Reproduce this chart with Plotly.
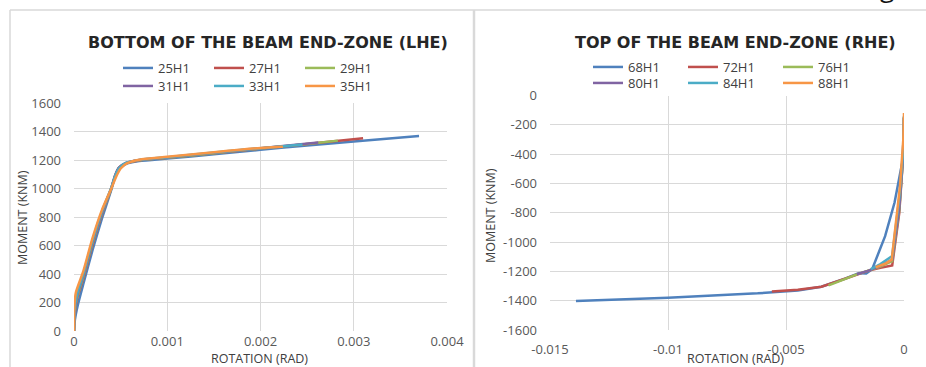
import plotly.graph_objects as go

W, H = 926, 367

# ---------------- data: left chart (bottom of beam end-zone, LHE) ----------------
left_names = ["25H1", "27H1", "29H1", "31H1", "33H1", "35H1"]
rot_25H1 = [0, 0.00001, 0.00004, 0.0001, 0.0002, 0.0003, 0.0004, 0.00044, 0.00048, 0.00055, 0.0007, 0.001, 0.0015, 0.002, 0.0025, 0.003, 0.0037]
mom_25H1 = [0, 80, 180, 330, 570, 790, 990, 1080, 1140, 1170, 1192, 1210, 1240, 1272, 1302, 1330, 1368]
rot_27H1 = [0, 0.000005, 0.00003, 0.0001, 0.0002, 0.0003, 0.0004, 0.00044, 0.00048, 0.00055, 0.0007, 0.001, 0.0015, 0.002, 0.0025, 0.0031]
mom_27H1 = [0, 100, 220, 370, 610, 820, 1000, 1090, 1145, 1175, 1197, 1215, 1247, 1280, 1313, 1352]
rot_29H1 = [0, 0.000005, 0.00003, 0.0001, 0.0002, 0.0003, 0.0004, 0.00044, 0.00048, 0.00055, 0.0007, 0.001, 0.0015, 0.002, 0.0025, 0.00283]
mom_29H1 = [0, 110, 230, 380, 620, 825, 1000, 1085, 1142, 1175, 1198, 1216, 1248, 1280, 1312, 1336]
rot_31H1 = [0, 0.000005, 0.00003, 0.0001, 0.0002, 0.0003, 0.0004, 0.00044, 0.00048, 0.00055, 0.0007, 0.001, 0.0015, 0.002, 0.00262]
mom_31H1 = [0, 120, 240, 390, 630, 830, 1005, 1090, 1145, 1178, 1200, 1218, 1250, 1282, 1322]
rot_33H1 = [0, 0.000004, 0.00003, 0.0001, 0.0002, 0.0003, 0.0004, 0.00044, 0.00048, 0.00055, 0.0007, 0.001, 0.0015, 0.002, 0.00245]
mom_33H1 = [0, 140, 250, 400, 640, 840, 1005, 1085, 1140, 1178, 1201, 1220, 1252, 1283, 1308]
rot_35H1 = [0, 0.000003, 0.00002, 0.0001, 0.0002, 0.0003, 0.0004, 0.00045, 0.0005, 0.00057, 0.0007, 0.001, 0.0015, 0.002, 0.00224]
mom_35H1 = [0, 160, 270, 420, 655, 850, 1000, 1080, 1140, 1178, 1202, 1222, 1255, 1285, 1293]

# ---------------- data: right chart (top of beam end-zone, RHE) ----------------
right_names = ["68H1", "72H1", "76H1", "80H1", "84H1", "88H1"]
rot_68H1 = [0, -0.00002, -0.00008, -0.0004, -0.0008, -0.00125, -0.00135, -0.0016, -0.0019, -0.0025, -0.0035, -0.0045, -0.0062, -0.01, -0.0139]
mom_68H1 = [-150, -300, -460, -730, -960, -1150, -1185, -1215, -1212, -1250, -1305, -1330, -1350, -1380, -1402]
rot_72H1 = [0, -0.00003, -0.0002, -0.0005, -0.001, -0.0015, -0.0025, -0.0035, -0.0045, -0.0056]
mom_72H1 = [-150, -400, -800, -1160, -1175, -1195, -1250, -1305, -1325, -1338]
rot_76H1 = [0, -0.00003, -0.0002, -0.0005, -0.001, -0.002, -0.003, -0.0032]
mom_76H1 = [-150, -400, -780, -1130, -1168, -1220, -1283, -1295]
rot_80H1 = [0, -0.00003, -0.0002, -0.0005, -0.001, -0.0015, -0.002]
mom_80H1 = [-150, -400, -770, -1120, -1163, -1195, -1220]
rot_84H1 = [0, -0.00003, -0.0002, -0.0005, -0.001, -0.0014]
mom_84H1 = [-140, -380, -700, -1095, -1150, -1185]
rot_88H1 = [0, -0.00003, -0.00017, -0.00052, -0.0008, -0.0012]
mom_88H1 = [-120, -300, -620, -1120, -1148, -1172]

# ---------------- tick labels ----------------
left_x_ticks = [0, 0.001, 0.002, 0.003, 0.004]
left_x_labels = ["0", "0.001", "0.002", "0.003", "0.004"]
left_y_ticks = [0, 200, 400, 600, 800, 1000, 1200, 1400, 1600]
left_y_labels = ["0", "200", "400", "600", "800", "1000", "1200", "1400", "1600"]
right_x_ticks = [-0.015, -0.01, -0.005, 0]
right_x_labels = ["-0.015", "-0.01", "-0.005", "0"]
right_y_ticks = [0, -200, -400, -600, -800, -1000, -1200, -1400, -1600]
right_y_labels = ["0", "-200", "-400", "-600", "-800", "-1000", "-1200", "-1400", "-1600"]

colors = ["#4F81BD", "#C0504D", "#9BBB59", "#8064A2", "#4BACC6", "#F79646"]

left_rot = [rot_25H1, rot_27H1, rot_29H1, rot_31H1, rot_33H1, rot_35H1]
left_mom = [mom_25H1, mom_27H1, mom_29H1, mom_31H1, mom_33H1, mom_35H1]
right_rot = [rot_68H1, rot_72H1, rot_76H1, rot_80H1, rot_84H1, rot_88H1]
right_mom = [mom_68H1, mom_72H1, mom_76H1, mom_80H1, mom_84H1, mom_88H1]

fig = go.Figure()
for i in range(6):
    fig.add_trace(go.Scatter(x=left_rot[i], y=left_mom[i], mode="lines", name=left_names[i],
                             line=dict(color=colors[i], width=2.5, shape="spline", smoothing=0.6),
                             xaxis="x", yaxis="y", legend="legend" if i < 3 else "legend2"))
for i in range(6):
    fig.add_trace(go.Scatter(x=right_rot[i], y=right_mom[i], mode="lines", name=right_names[i],
                             line=dict(color=colors[i], width=2.5),
                             xaxis="x2", yaxis="y2", legend="legend3" if i < 3 else "legend4"))

def px_x(p):
    return p / W

def px_y(p):
    return 1 - p / H

tickfont = dict(family="Open Sans", size=13, color="#595959")
titlefont = dict(family="Open Sans", size=12.5, color="#404040")
grid = "#D9D9D9"

axis_common = dict(showgrid=True, gridcolor=grid, gridwidth=1, zeroline=False, showline=False,
                   ticks="", tickmode="array", tickfont=tickfont, fixedrange=True, automargin=False)

legfont = dict(family="Open Sans", size=13, color="#404040")

def leg(x, y, ew):
    return dict(orientation="h", x=px_x(x), y=px_y(y), xanchor="left", yanchor="middle",
                font=legfont, entrywidth=ew, entrywidthmode="pixels", bgcolor="rgba(0,0,0,0)",
                itemwidth=30, tracegroupgap=0)

fig.update_layout(
    width=W, height=H,
    margin=dict(l=0, r=0, t=0, b=0, autoexpand=False),
    paper_bgcolor="white", plot_bgcolor="white",
    showlegend=True,
    xaxis=dict(axis_common, domain=[px_x(74), px_x(447)], range=[0, 0.004],
               tickvals=left_x_ticks, ticktext=left_x_labels, anchor="y", ticklabelstandoff=1),
    yaxis=dict(axis_common, domain=[px_y(331), px_y(103)], range=[0, 1600],
               tickvals=left_y_ticks, ticktext=left_y_labels, anchor="x", ticklabelstandoff=12),
    xaxis2=dict(axis_common, domain=[px_x(550), px_x(904)], range=[-0.015, 0],
                tickvals=right_x_ticks, ticktext=right_x_labels, anchor="y2", ticklabelstandoff=10),
    yaxis2=dict(axis_common, domain=[px_y(330), px_y(95.5)], range=[-1600, 0],
                tickvals=right_y_ticks, ticktext=right_y_labels, anchor="x2", ticklabelstandoff=12),
    legend=leg(118, 68, 46),
    legend2=leg(118, 86, 46),
    legend3=leg(588, 67, 50),
    legend4=leg(588, 83, 50),
)

annotations = [
    dict(text="<b>BOTTOM OF THE BEAM END-ZONE (LHE)</b>", x=px_x(268), y=px_y(43),
         font=dict(family="DejaVu Sans", size=16, color="#262626")),
    dict(text="<b>TOP OF THE BEAM END-ZONE (RHE)</b>", x=px_x(735), y=px_y(42),
         font=dict(family="DejaVu Sans", size=16, color="#262626")),
    dict(text="MOMENT (KNM)", x=px_x(22), y=px_y(218), textangle=-90, font=titlefont),
    dict(text="MOMENT (KNM)", x=px_x(490), y=px_y(216), textangle=-90, font=titlefont),
    dict(text="ROTATION (RAD)", x=px_x(259), y=px_y(358), font=titlefont),
    dict(text="ROTATION (RAD)", x=px_x(735), y=px_y(358.5), font=titlefont),
    dict(text="g", x=px_x(887), y=px_y(7), yanchor="bottom",
         font=dict(family="Open Sans", size=26, color="#111111")),
]
for a in annotations:
    a.update(xref="paper", yref="paper", showarrow=False, xanchor="center")
    a.setdefault("yanchor", "middle")
fig.update_layout(annotations=annotations)

border = "#D9D9D9"
shapes = [
    dict(type="line", xref="paper", yref="paper", x0=px_x(10), x1=1, y0=px_y(10), y1=px_y(10),
         line=dict(color=border, width=1.5)),
    dict(type="line", xref="paper", yref="paper", x0=px_x(10), x1=px_x(10), y0=px_y(10), y1=0,
         line=dict(color=border, width=1.5)),
    dict(type="line", xref="paper", yref="paper", x0=px_x(474), x1=px_x(474), y0=px_y(10), y1=0,
         line=dict(color=border, width=2.5)),
]
fig.update_layout(shapes=shapes)

fig.write_html("out.html", config={"displayModeBar": False, "staticPlot": True},
               post_script="document.body.style.margin='0';document.body.style.overflow='hidden';")
